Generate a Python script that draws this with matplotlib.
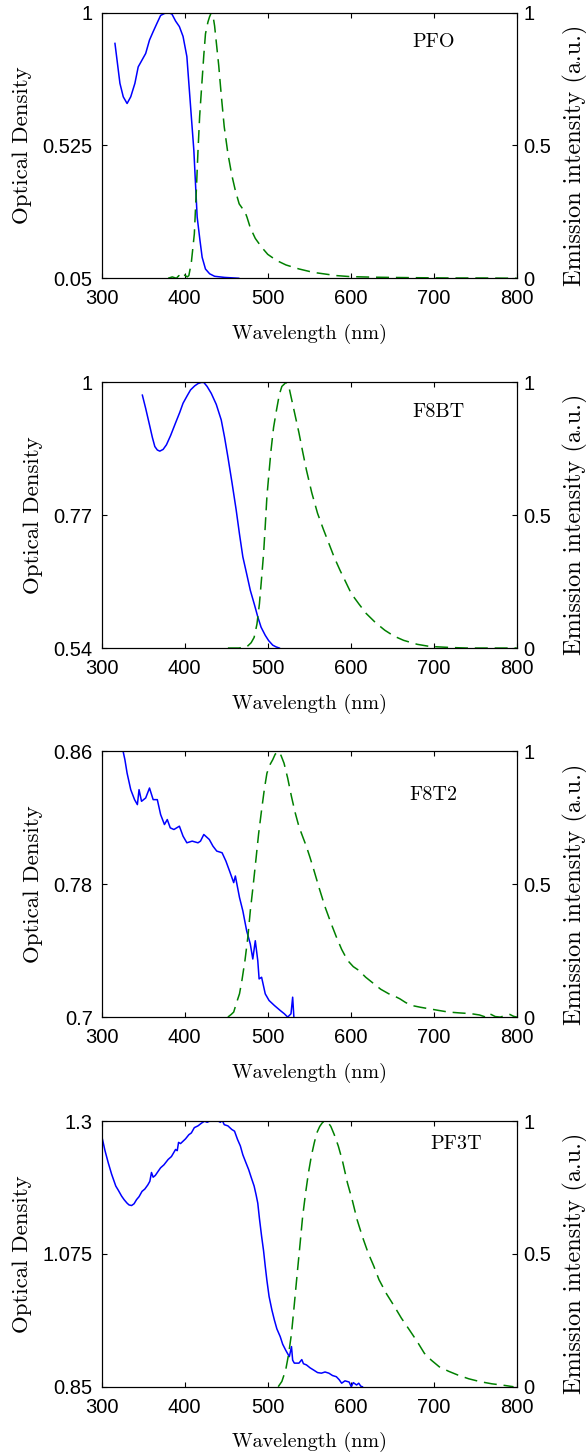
"""
Absorption (solid) and emission (dashed) spectra of four polyfluorene films.
"""

import matplotlib
matplotlib.use('Agg')
import matplotlib.pyplot as plt

plt.rcParams['font.family'] = 'Liberation Sans'
plt.rcParams['font.size'] = 14.5

# ---- data ------------------------------------------------------------------
wl_ticks = [300, 400, 500, 600, 700, 800]
em_ticks = [0, 0.5, 1]
em_ticklabels = ['0', '0.5', '1']

names = ['PFO', 'F8BT', 'F8T2', 'PF3T']
od_limits = [(0.05, 1.0), (0.54, 1.0), (0.70, 0.86), (0.85, 1.30)]
od_ticklabels = [['0.05', '0.525', '1'],
                 ['0.54', '0.77', '1'],
                 ['0.7', '0.78', '0.86'],
                 ['0.85', '1.075', '1.3']]

# PFO
pfo_abs_wl = [316, 322, 326, 330.6, 335, 340, 344, 353, 357.6, 362, 366.6, 371,
              375.6, 380, 384.6, 389, 393.6, 398, 402.6, 405, 408, 411, 413,
              415, 418.4, 421, 425, 430, 436, 448, 465]
pfo_abs_od = [0.89, 0.747, 0.699, 0.675, 0.699, 0.747, 0.806, 0.854, 0.902,
              0.932, 0.962, 0.99, 0.997, 1.0, 0.995, 0.97, 0.95, 0.915, 0.843,
              0.747, 0.627, 0.508, 0.388, 0.269, 0.185, 0.125, 0.083, 0.066,
              0.057, 0.053, 0.05]
pfo_em_wl = [380, 385, 390, 393, 396, 400, 403, 405, 408, 411.6, 414, 416, 418,
             420.6, 423, 425, 428, 430, 432, 434, 436, 438, 441, 444, 447.6, 452,
             456.6, 461, 465.6, 469, 472, 475, 479, 485, 492.6, 500, 510.6, 522,
             537.6, 555, 582.6, 600, 627.6, 650, 680, 720, 760, 800]
pfo_em_int = [0.0, 0.005, 0.0, 0.01, 0.0, 0.012, 0.005, 0.01, 0.06, 0.167,
              0.33, 0.48, 0.61, 0.73, 0.84, 0.92, 0.965, 0.985, 1.0, 0.99, 0.95,
              0.89, 0.80, 0.69, 0.57, 0.47, 0.39, 0.33, 0.28, 0.265, 0.255, 0.23,
              0.19, 0.15, 0.117, 0.09, 0.067, 0.05, 0.035, 0.022, 0.01, 0.006,
              0.004, 0.003, 0.002, 0.001, 0.001, 0.0]

# F8BT
f8bt_abs_wl = [349, 353, 358, 361, 364, 367, 370, 374, 378, 383, 389, 394, 398,
               403, 407, 412, 416, 420, 423, 427, 432, 438, 444, 448, 452, 457,
               462, 466, 470, 475, 479, 484, 488, 492, 497, 501, 506, 510, 514]
f8bt_abs_od = [0.978, 0.955, 0.924, 0.905, 0.889, 0.883, 0.881, 0.884, 0.892,
               0.908, 0.93, 0.948, 0.964, 0.977, 0.987, 0.994, 0.998, 1.0, 1.0,
               0.993, 0.981, 0.962, 0.935, 0.905, 0.871, 0.826, 0.779, 0.737,
               0.698, 0.666, 0.64, 0.615, 0.594, 0.576, 0.562, 0.553, 0.545,
               0.542, 0.54]
f8bt_em_wl = [452, 465, 474.6, 480, 483.6, 487, 490, 492.5, 495, 497, 499, 501.5,
              504, 507, 510.6, 514, 517, 522, 525, 528, 532, 537.6, 542, 546.6,
              553, 560, 567, 573.6, 580, 587, 594, 600.6, 610, 618.6, 630, 641,
              652, 663.6, 680, 695, 720, 740, 770, 800]
f8bt_em_int = [0.0, 0.0, 0.004, 0.02, 0.04, 0.09, 0.167, 0.26, 0.356, 0.46,
               0.57, 0.66, 0.746, 0.83, 0.897, 0.955, 0.985, 1.0, 0.99, 0.947,
               0.89, 0.81, 0.74, 0.67, 0.585, 0.507, 0.447, 0.394, 0.342, 0.293,
               0.248, 0.205, 0.165, 0.13, 0.095, 0.067, 0.045, 0.029, 0.014,
               0.006, 0.002, 0.0, 0.0, 0.0]

# F8T2
f8t2_abs_wl = [325, 328, 330.6, 335, 339.6, 343, 345, 348, 353, 357.6, 362, 367,
               371, 375.6, 379, 382.6, 387, 393.6, 398, 402.6, 409, 416, 419,
               423, 429.6, 434, 438.6, 445, 449.6, 454, 459, 461, 466, 470,
               474.6, 479, 482, 485, 488, 489.6, 492.6, 497, 501.6, 508, 515,
               520, 524, 528, 530, 531.6]
f8t2_abs_od = [0.862, 0.855, 0.847, 0.837, 0.831, 0.828, 0.837, 0.830, 0.832,
               0.838, 0.831, 0.831, 0.822, 0.816, 0.819, 0.814, 0.813, 0.815,
               0.809, 0.805, 0.806, 0.805, 0.806, 0.810, 0.807, 0.803, 0.800,
               0.799, 0.794, 0.788, 0.781, 0.785, 0.772, 0.764, 0.752, 0.744,
               0.735, 0.746, 0.734, 0.723, 0.724, 0.714, 0.710, 0.707, 0.704,
               0.702, 0.700, 0.702, 0.712, 0.699]
f8t2_em_wl = [452, 456, 459, 462, 466, 469, 472.6, 476, 479, 482.6, 486, 489,
              492.6, 496, 499, 502.6, 506, 509, 513, 516, 519.6, 524, 528.6, 533,
              537.6, 542, 546.6, 551, 555.6, 562, 569, 576, 582.6, 589, 596, 603,
              609.6, 618, 627.6, 636, 645.6, 652, 659, 666, 673, 684, 695, 706,
              717.6, 730, 744.6, 755, 762.6, 766, 769, 774, 780, 786, 791.6, 796,
              800]
f8t2_em_int = [0.0, 0.01, 0.019, 0.05, 0.088, 0.14, 0.214, 0.3, 0.40, 0.50,
               0.60, 0.69, 0.78, 0.86, 0.918, 0.95, 0.969, 0.99, 1.0, 0.985,
               0.956, 0.9, 0.83, 0.77, 0.717, 0.68, 0.642, 0.6, 0.553, 0.485,
               0.415, 0.355, 0.302, 0.255, 0.214, 0.19, 0.176, 0.15, 0.126,
               0.105, 0.088, 0.08, 0.069, 0.055, 0.044, 0.037, 0.031, 0.025,
               0.019, 0.016, 0.013, 0.008, 0.0, 0.012, 0.01, 0.002, 0.0, 0.006,
               0.01, 0.003, 0.0]

# PF3T
pf3t_abs_wl = [301, 304, 308, 312, 317, 320, 324, 327, 330.6, 333, 336, 339,
               342, 345, 348.6, 352, 355.6, 358, 360, 362, 364.6, 368, 371, 375,
               380, 384, 389, 391, 392.6, 395, 398, 401, 405, 408, 411.6, 416,
               420.6, 424, 427, 430, 434, 438, 443, 445, 447.6, 452, 456.6, 460,
               463.6, 467, 470, 473.6, 477, 480, 483.6, 486, 488, 490, 492.6,
               495, 497, 499, 501.6, 505, 508, 511, 515, 518, 521.6, 524, 526,
               528.6, 530, 532, 535, 537.6, 541, 543, 546.6, 551, 555.6, 560,
               564.6, 569, 573.6, 578, 582.6, 586, 589, 593, 598, 600.6, 603,
               607, 609.6, 612, 614]
pf3t_abs_od = [1.269, 1.25, 1.229, 1.21, 1.19, 1.183, 1.173, 1.167, 1.161,
               1.158, 1.157, 1.16, 1.167, 1.172, 1.181, 1.185, 1.192, 1.198,
               1.213, 1.205, 1.208, 1.215, 1.221, 1.226, 1.235, 1.24, 1.252,
               1.25, 1.264, 1.262, 1.266, 1.27, 1.277, 1.28, 1.289, 1.292, 1.297,
               1.3, 1.298, 1.3, 1.3, 1.302, 1.298, 1.302, 1.294, 1.292, 1.286,
               1.283, 1.269, 1.258, 1.243, 1.23, 1.218, 1.205, 1.19, 1.175,
               1.161, 1.135, 1.105, 1.08, 1.054, 1.03, 1.003, 0.98, 0.963, 0.948,
               0.935, 0.922, 0.912, 0.906, 0.901, 0.918, 0.895, 0.89, 0.89, 0.89,
               0.896, 0.889, 0.887, 0.882, 0.878, 0.874, 0.873, 0.875, 0.873,
               0.869, 0.867, 0.862, 0.856, 0.86, 0.858, 0.85, 0.857, 0.853,
               0.856, 0.851, 0.85]
pf3t_em_wl = [512.6, 517, 521.6, 525, 528.6, 532, 535.6, 539, 542, 545.6, 549,
              552.6, 556, 559, 562.6, 566, 569, 572.6, 576, 580, 585, 590, 596,
              602, 607.6, 614, 621, 627.6, 634, 643, 652.6, 661, 670.6, 680,
              688.6, 697, 706.6, 718, 729, 742, 756, 770, 783, 796]
pf3t_em_int = [0.0, 0.02, 0.063, 0.12, 0.2, 0.31, 0.43, 0.54, 0.64, 0.73,
               0.805, 0.87, 0.918, 0.955, 0.98, 0.995, 1.0, 0.995, 0.98, 0.95,
               0.906, 0.85, 0.767, 0.70, 0.629, 0.565, 0.503, 0.455, 0.403, 0.35,
               0.302, 0.258, 0.214, 0.17, 0.126, 0.1, 0.075, 0.058, 0.044, 0.03,
               0.019, 0.011, 0.006, 0.0]

absorption = [(pfo_abs_wl, pfo_abs_od), (f8bt_abs_wl, f8bt_abs_od),
              (f8t2_abs_wl, f8t2_abs_od), (pf3t_abs_wl, pf3t_abs_od)]
emission = [(pfo_em_wl, pfo_em_int), (f8bt_em_wl, f8bt_em_int),
            (f8t2_em_wl, f8t2_em_int), (pf3t_em_wl, pf3t_em_int)]

# ---- layout -----------------------------------------------------------------
LEFT, WIDTH, HEIGHT = 0.1735, 0.7085, 0.1828
BOTTOMS = [0.8085, 0.554, 0.3, 0.0456]
NAME_POS = [(700, 0.89), (706, 0.89), (699, 0.837), (727, 0.912)]  # (nm, axes frac)
SERIF = 'cmr10'

fig = plt.figure(figsize=(5.86, 14.53), dpi=100)

for i in range(4):
    ax = fig.add_axes([LEFT, BOTTOMS[i], WIDTH, HEIGHT])
    ax2 = ax.twinx()

    wl, od = absorption[i]
    ax.plot(wl, od, color='#0000ff', lw=1.1)
    ewl, eint = emission[i]
    ax2.plot(ewl, eint, color='#008000', lw=1.1, linestyle='--', dashes=(8.5, 4.5))

    lo, hi = od_limits[i]
    ax.set_xlim(300, 800)
    ax.set_ylim(lo, hi)
    ax.set_xticks(wl_ticks)
    ax.set_yticks([lo, (lo + hi) / 2, hi])
    ax.set_yticklabels(od_ticklabels[i])
    ax2.set_ylim(0, 1)
    ax2.set_yticks(em_ticks)
    ax2.set_yticklabels(em_ticklabels)

    ax.tick_params(axis='x', direction='in', top=True, length=3.5, pad=8)
    ax.tick_params(axis='y', direction='in', length=3.5, pad=6.5)
    ax2.tick_params(axis='y', direction='in', length=3.5, pad=4.5)
    for a in (ax, ax2):
        for sp in a.spines.values():
            sp.set_linewidth(0.8)

    ax.set_xlabel('Wavelength (nm)', fontfamily=SERIF, fontsize=14.5, labelpad=11)
    ax.set_ylabel('Optical Density', fontfamily=SERIF, fontsize=16.5, labelpad=7.5)
    ax2.set_ylabel('Emission intensity (a.u.)', fontfamily=SERIF, fontsize=17.5)
    ax2.yaxis.set_label_coords(1.11, 0.464)

    nx, ny = NAME_POS[i]
    ax.text(nx, ny, names[i], transform=ax.get_xaxis_transform(),
            ha='center', va='center', fontfamily=SERIF, fontsize=14.5)

fig.savefig('out.png', dpi=100, facecolor='white')
